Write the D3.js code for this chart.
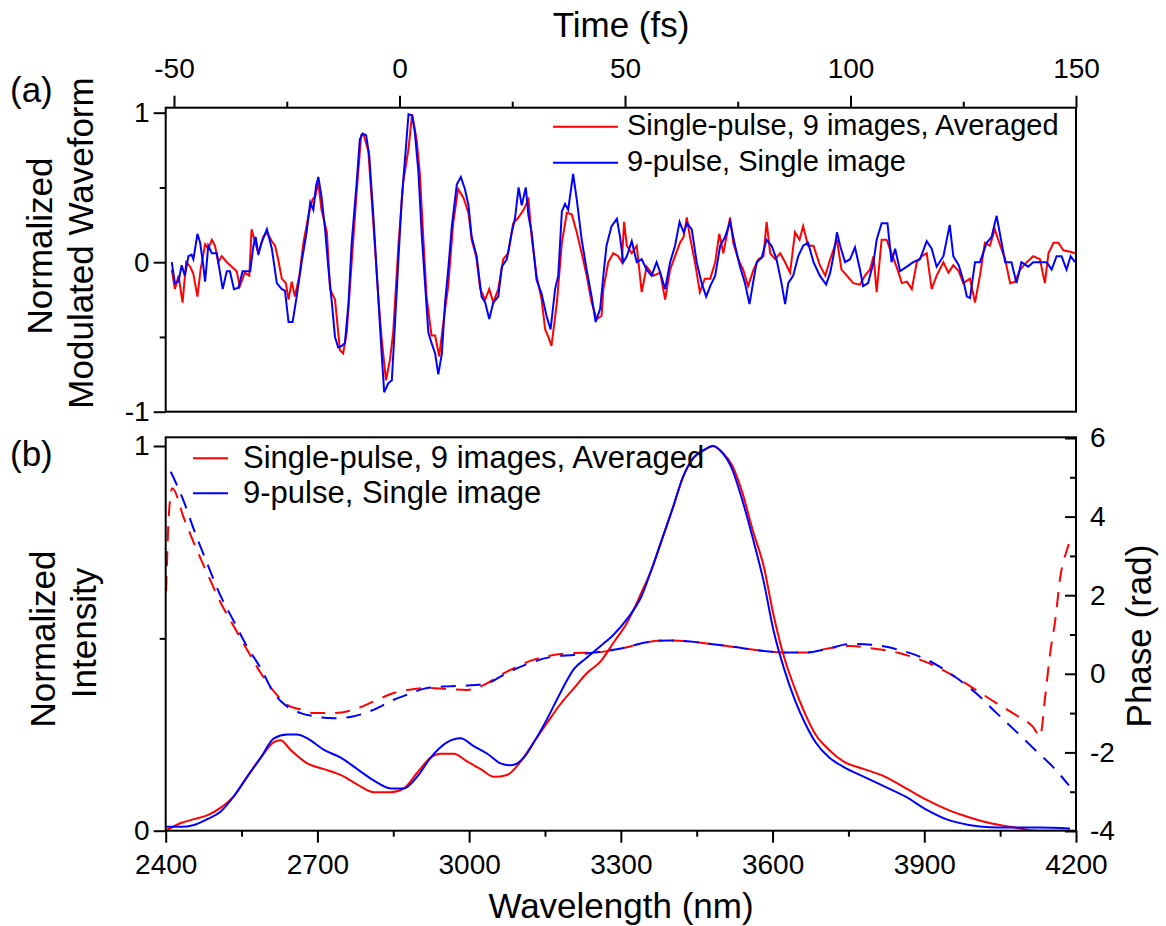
<!DOCTYPE html>
<html><head><meta charset="utf-8">
<script src="https://cdn.jsdelivr.net/npm/d3@7"></script>
<style>
body{margin:0;background:#fff;}
text{font-family:"Liberation Sans",Arial,sans-serif;fill:#000;}
</style>
</head><body>
<svg id="chart" width="1166" height="926"></svg>
<script>
// ---------- tick values ----------
const timeTicks = [-50, 0, 50, 100, 150];
const timeMinorTicks = [-25, 25, 75, 125];
const waveTicks = [-1, 0, 1];
const waveMinorTicks = [-0.5, 0.5];
const wavelengthTicks = [2400, 2700, 3000, 3300, 3600, 3900, 4200];
const wavelengthMinorTicks = [2550, 2850, 3150, 3450, 3750, 4050];
const intensityTicks = [0, 1];
const intensityMinorTicks = [0.5];
const phaseTicks = [-4, -2, 0, 2, 4, 6];
const phaseMinorTicks = [-3, -1, 1, 3, 5];
const seriesNames = ["Single-pulse, 9 images, Averaged", "9-pulse, Single image"];
const seriesColors = ["#ff0000", "#0000ff"];

// ---------- (a) modulated waveform: [time fs, normalized value] ----------
const redWaveform = [[-50.5,-0.05],[-49.8,-0.18],[-49.0,-0.09],[-48.1,-0.27],[-47.3,0.00],[-46.4,-0.03],[-45.7,-0.08],[-44.8,-0.23],[-44.1,-0.05],[-43.1,0.12],[-42.4,0.09],[-41.6,0.15],[-40.9,0.11],[-40.2,0.00],[-39.4,0.04],[-38.3,0.00],[-37.2,-0.03],[-36.1,-0.06],[-35.4,-0.16],[-34.3,-0.07],[-33.3,-0.09],[-32.8,0.22],[-32.0,0.13],[-31.3,0.06],[-30.2,0.17],[-29.4,0.20],[-28.3,0.14],[-27.6,0.11],[-26.9,0.02],[-26.1,-0.11],[-25.2,-0.14],[-24.6,-0.25],[-23.9,-0.13],[-23.2,-0.23],[-22.2,-0.09],[-21.3,0.13],[-20.2,0.31],[-19.3,0.42],[-18.7,0.44],[-18.0,0.53],[-17.3,0.35],[-16.1,0.20],[-15.4,-0.18],[-14.3,-0.25],[-13.2,-0.59],[-12.5,-0.61],[-11.7,-0.47],[-10.6,0.00],[-9.5,0.47],[-8.5,0.85],[-7.9,0.85],[-6.9,0.74],[-5.8,0.26],[-4.7,-0.23],[-4.0,-0.50],[-3.0,-0.79],[-2.1,-0.65],[-1.4,-0.47],[-0.2,0.13],[0.8,0.53],[2.0,0.76],[2.8,0.99],[3.8,0.82],[4.5,0.60],[5.3,0.15],[6.0,-0.23],[7.1,-0.49],[7.9,-0.49],[8.8,-0.63],[9.7,-0.41],[10.8,-0.16],[11.9,0.26],[13.0,0.49],[14.2,0.43],[15.3,0.33],[16.0,0.15],[17.0,0.04],[17.9,-0.18],[19.0,-0.25],[19.9,-0.18],[20.8,-0.27],[21.9,-0.18],[23.0,0.02],[24.1,0.06],[25.2,0.26],[26.4,0.30],[27.5,0.35],[28.6,0.42],[29.3,0.17],[30.4,-0.09],[31.5,-0.25],[32.3,-0.45],[33.0,-0.50],[33.7,-0.56],[34.9,-0.27],[36.0,0.13],[37.1,0.33],[38.2,0.32],[39.3,0.20],[40.4,0.06],[41.5,-0.09],[42.6,-0.27],[43.7,-0.38],[44.8,-0.36],[45.2,-0.18],[46.3,0.00],[47.4,0.06],[48.5,0.04],[49.3,0.00],[49.8,0.27],[50.4,0.11],[51.5,0.06],[52.6,0.11],[53.7,-0.20],[54.8,-0.03],[56.3,-0.09],[57.8,-0.07],[58.9,-0.25],[60.0,-0.05],[61.1,0.04],[62.2,0.13],[63.0,0.17],[63.7,0.30],[64.4,0.17],[65.5,0.00],[66.6,-0.20],[67.7,-0.11],[68.9,-0.11],[70.0,0.00],[70.9,0.19],[71.8,0.06],[72.5,0.17],[73.3,0.30],[74.0,0.13],[75.1,0.02],[76.2,-0.05],[77.3,-0.16],[78.5,-0.05],[79.6,0.02],[80.7,0.04],[81.4,0.27],[82.2,0.06],[83.3,0.02],[84.4,0.06],[85.5,0.00],[86.6,-0.07],[87.7,0.20],[88.7,0.15],[89.5,0.24],[90.6,0.11],[91.8,0.11],[93.2,-0.02],[94.4,-0.09],[95.5,0.02],[97.0,0.15],[98.0,-0.05],[99.2,-0.09],[100.6,-0.14],[102.1,-0.15],[103.2,-0.09],[104.3,-0.05],[105.1,0.04],[105.8,-0.20],[106.9,0.15],[108.0,0.15],[109.1,0.06],[110.2,-0.03],[111.4,-0.14],[112.5,-0.13],[113.6,-0.18],[114.7,0.00],[115.8,0.04],[116.9,0.06],[118.0,-0.18],[119.1,-0.09],[120.6,0.00],[121.7,-0.07],[122.8,-0.02],[124.0,-0.06],[125.0,-0.14],[126.5,-0.11],[127.6,-0.27],[128.7,-0.09],[129.8,0.13],[130.9,0.11],[132.0,0.22],[133.2,0.11],[134.3,0.02],[135.4,-0.14],[136.5,-0.13],[137.6,-0.05],[139.1,0.00],[140.5,0.04],[142.0,0.02],[143.1,-0.14],[143.9,0.06],[145.0,0.13],[146.1,0.13],[147.2,0.08],[148.7,0.07],[149.8,0.06]];

const blueWaveform = [[-50.5,0.00],[-49.8,-0.14],[-49.0,-0.13],[-48.3,-0.02],[-47.6,-0.09],[-46.8,0.04],[-46.1,0.05],[-45.7,0.02],[-44.8,0.19],[-44.2,0.13],[-43.6,0.00],[-43.1,-0.13],[-42.4,0.11],[-41.6,0.06],[-40.5,0.06],[-39.2,-0.18],[-38.3,-0.06],[-37.6,-0.06],[-36.7,-0.18],[-35.7,-0.17],[-34.8,-0.06],[-33.1,-0.06],[-32.4,0.11],[-31.9,0.17],[-31.3,0.05],[-30.6,0.13],[-29.4,0.22],[-28.3,0.09],[-27.2,-0.14],[-26.1,-0.18],[-25.4,-0.19],[-24.6,-0.40],[-23.7,-0.40],[-22.8,-0.23],[-21.7,0.00],[-20.6,0.20],[-19.8,0.40],[-19.1,0.35],[-18.5,0.51],[-18.0,0.57],[-17.3,0.44],[-16.5,0.22],[-15.8,-0.03],[-15.0,-0.27],[-14.3,-0.50],[-13.6,-0.57],[-12.8,-0.56],[-12.1,-0.54],[-11.3,-0.27],[-10.6,0.13],[-9.5,0.53],[-8.8,0.82],[-8.2,0.86],[-7.4,0.85],[-6.7,0.71],[-5.8,0.31],[-4.9,-0.14],[-4.0,-0.59],[-3.4,-0.87],[-2.5,-0.81],[-1.7,-0.79],[-1.0,-0.41],[-0.2,0.04],[0.5,0.42],[1.4,0.76],[2.0,0.99],[2.8,0.98],[3.4,0.87],[4.2,0.60],[4.9,0.20],[5.7,-0.16],[6.4,-0.47],[7.1,-0.54],[7.9,-0.61],[8.6,-0.75],[9.4,-0.61],[10.1,-0.27],[10.8,-0.05],[11.6,0.24],[12.7,0.52],[13.6,0.57],[14.5,0.49],[15.3,0.38],[16.0,0.17],[17.1,0.04],[18.2,-0.23],[19.0,-0.27],[19.9,-0.38],[20.8,-0.27],[21.9,-0.23],[22.7,-0.03],[23.8,0.02],[24.9,0.20],[25.6,0.29],[26.4,0.50],[27.1,0.38],[28.0,0.50],[28.6,0.31],[29.3,0.20],[30.4,-0.12],[31.5,-0.21],[32.6,-0.36],[33.5,-0.45],[34.5,-0.18],[35.2,-0.09],[36.0,0.34],[36.7,0.39],[37.4,0.35],[38.5,0.59],[39.3,0.42],[40.4,0.15],[41.5,-0.05],[42.6,-0.23],[43.5,-0.40],[44.5,-0.31],[45.2,-0.09],[45.9,0.11],[47.0,0.24],[48.2,0.29],[48.9,0.17],[49.6,0.00],[50.4,0.04],[51.5,0.14],[52.6,0.00],[53.7,0.02],[54.8,-0.05],[55.9,-0.09],[57.0,0.00],[57.8,-0.07],[58.9,-0.18],[60.0,0.00],[61.1,0.11],[62.1,0.27],[63.0,0.20],[63.8,0.26],[64.8,0.22],[65.9,0.00],[67.0,-0.14],[68.0,-0.23],[68.9,-0.16],[70.0,-0.09],[71.1,0.11],[72.2,0.17],[73.3,0.27],[74.4,0.11],[75.5,-0.03],[76.6,-0.14],[77.6,-0.28],[78.5,-0.12],[79.2,0.00],[80.3,0.03],[81.4,0.15],[82.5,0.11],[83.6,0.02],[84.7,-0.14],[85.5,-0.28],[86.2,-0.14],[87.3,-0.09],[88.4,0.04],[89.5,0.11],[90.6,0.13],[91.8,0.00],[93.2,-0.09],[94.6,-0.15],[95.5,-0.07],[96.2,0.04],[97.0,0.20],[97.7,0.11],[98.8,0.00],[99.9,0.02],[101.0,0.10],[102.1,-0.05],[102.8,-0.16],[103.9,-0.14],[105.1,0.00],[105.8,0.15],[106.9,0.26],[108.2,0.26],[109.1,0.00],[109.9,0.09],[111.0,-0.06],[112.5,-0.03],[113.9,0.00],[115.4,0.02],[116.9,0.14],[118.0,0.09],[119.1,-0.03],[120.6,0.04],[122.0,0.25],[122.8,0.04],[124.0,-0.02],[125.0,-0.12],[125.8,-0.23],[126.5,-0.24],[127.6,0.00],[128.7,0.00],[130.2,0.13],[131.3,0.17],[132.4,0.31],[133.5,0.13],[134.3,0.00],[135.7,0.00],[136.8,-0.14],[137.9,0.00],[139.4,-0.03],[140.5,0.00],[142.0,0.00],[143.5,0.00],[144.6,-0.05],[145.7,0.04],[146.8,0.04],[147.9,-0.05],[148.8,0.04],[149.8,0.00]];

// ---------- (b) spectrum: [wavelength nm, normalized intensity] ----------
const redIntensity = [[2400,0.00],[2430,0.02],[2456,0.03],[2482,0.04],[2509,0.06],[2535,0.09],[2561,0.14],[2588,0.19],[2614,0.23],[2627,0.235],[2647,0.21],[2680,0.175],[2713,0.16],[2746,0.145],[2779,0.12],[2812,0.10],[2845,0.10],[2871,0.11],[2897,0.15],[2924,0.19],[2943,0.20],[2970,0.20],[2996,0.18],[3023,0.16],[3049,0.14],[3075,0.145],[3102,0.18],[3128,0.23],[3154,0.28],[3181,0.33],[3207,0.37],[3233,0.41],[3260,0.44],[3286,0.49],[3312,0.54],[3341,0.62],[3361,0.68],[3382,0.76],[3403,0.84],[3423,0.92],[3444,0.97],[3465,0.99],[3482,1.00],[3499,0.985],[3520,0.95],[3540,0.88],[3561,0.78],[3582,0.69],[3602,0.56],[3623,0.45],[3644,0.37],[3664,0.305],[3685,0.25],[3712,0.21],[3740,0.18],[3781,0.16],[3823,0.14],[3864,0.11],[3905,0.08],[3947,0.054],[3988,0.035],[4029,0.02],[4071,0.01],[4126,0.00],[4188,0.00]];
const blueIntensity = [[2400,0.01],[2430,0.01],[2456,0.015],[2482,0.03],[2509,0.05],[2535,0.09],[2561,0.14],[2588,0.19],[2614,0.24],[2640,0.25],[2660,0.25],[2680,0.24],[2713,0.21],[2746,0.19],[2779,0.16],[2812,0.13],[2845,0.11],[2871,0.11],[2897,0.14],[2924,0.19],[2957,0.23],[2983,0.24],[3009,0.22],[3036,0.20],[3062,0.175],[3082,0.17],[3108,0.19],[3128,0.23],[3154,0.29],[3181,0.36],[3207,0.42],[3233,0.45],[3260,0.48],[3286,0.51],[3312,0.55],[3341,0.61],[3361,0.68],[3382,0.76],[3403,0.84],[3423,0.92],[3444,0.97],[3465,0.99],[3482,1.00],[3499,0.985],[3520,0.94],[3540,0.86],[3561,0.76],[3582,0.65],[3602,0.52],[3623,0.42],[3644,0.34],[3664,0.28],[3685,0.23],[3712,0.19],[3740,0.166],[3781,0.14],[3823,0.114],[3864,0.088],[3905,0.054],[3947,0.028],[3988,0.015],[4029,0.009],[4071,0.008],[4126,0.008],[4188,0.006]];

// ---------- (b) spectral phase: [wavelength nm, phase rad] ----------
const redPhase = [[2401,2.1],[2403,3.0],[2406,4.0],[2413,4.72],[2436,3.96],[2456,3.32],[2482,2.56],[2509,1.80],[2535,1.20],[2561,0.61],[2588,0.02],[2614,-0.45],[2640,-0.79],[2667,-0.91],[2693,-1.00],[2733,-1.00],[2772,-0.91],[2812,-0.70],[2851,-0.49],[2878,-0.41],[2917,-0.36],[2957,-0.39],[2996,-0.41],[3036,-0.24],[3062,-0.03],[3088,0.14],[3128,0.36],[3167,0.48],[3207,0.53],[3247,0.54],[3286,0.61],[3320,0.70],[3341,0.78],[3396,0.85],[3437,0.82],[3478,0.76],[3520,0.69],[3575,0.59],[3623,0.54],[3664,0.54],[3712,0.65],[3754,0.71],[3795,0.65],[3850,0.53],[3905,0.29],[3960,-0.07],[4002,-0.41],[4043,-0.75],[4085,-1.08],[4115,-1.35],[4129,-1.59],[4139,-0.58],[4149,0.53],[4159,1.37],[4169,2.47],[4182,3.15],[4186,3.3]];
const bluePhase = [[2410,5.14],[2436,4.38],[2456,3.66],[2482,2.81],[2509,1.97],[2535,1.33],[2561,0.69],[2588,0.14],[2614,-0.49],[2640,-0.83],[2667,-1.00],[2693,-1.08],[2733,-1.13],[2772,-1.08],[2812,-0.91],[2851,-0.66],[2878,-0.53],[2917,-0.36],[2957,-0.32],[2996,-0.30],[3036,-0.24],[3062,-0.07],[3088,0.10],[3128,0.31],[3167,0.44],[3207,0.48],[3247,0.54],[3286,0.61],[3320,0.70],[3341,0.78],[3396,0.85],[3437,0.82],[3478,0.76],[3520,0.69],[3575,0.59],[3623,0.54],[3664,0.54],[3712,0.65],[3754,0.76],[3795,0.74],[3850,0.61],[3905,0.36],[3960,-0.07],[4002,-0.49],[4043,-1.00],[4085,-1.51],[4126,-2.02],[4153,-2.35],[4186,-2.84]];

// ---------- layout ----------
const svg = d3.select("#chart");
const FL = 165.7, FR = 1076;
const A = {top: 107.7, bottom: 411.7};
const B = {top: 437.3, bottom: 830.7};
const tickFont = 28;

const xTime = d3.scaleLinear().domain([-50, 150]).range([174, FR]);
const yWave = d3.scaleLinear().domain([-1, 1]).range([411.7, 112.7]);
const xWl = d3.scaleLinear().domain([2400, 4200]).range([FL, FR]);
const yInt = d3.scaleLinear().domain([0, 1]).range([B.bottom, 446]);
const yPh = d3.scaleLinear().domain([-4, 6]).range([831, 438]);

const fmt = d => String(d);

function styleAxis(g, size) {
  g.select(".domain").remove();
  g.selectAll(".tick line").attr("stroke", "#000").attr("stroke-width", 2);
  g.selectAll(".tick text").attr("font-size", size).attr("fill", "#000")
    .style("font-family", '"Liberation Sans", Arial, sans-serif');
}
function addAxis(axis, transform) {
  const g = svg.append("g").attr("transform", transform).call(axis);
  styleAxis(g, tickFont);
  return g;
}

// clip paths
const defs = svg.append("defs");
defs.append("clipPath").attr("id", "clipA").append("rect")
  .attr("x", FL).attr("y", A.top).attr("width", FR - FL).attr("height", A.bottom - A.top);
defs.append("clipPath").attr("id", "clipB").append("rect")
  .attr("x", FL).attr("y", B.top).attr("width", FR - FL).attr("height", B.bottom - B.top);

// ---------- panel (a) ----------
const lineA = d3.line().x(d => xTime(d[0])).y(d => yWave(d[1]));
const gA = svg.append("g").attr("clip-path", "url(#clipA)");
[redWaveform, blueWaveform].forEach((s, i) => {
  gA.append("path").datum(s).attr("d", lineA).attr("fill", "none")
    .attr("stroke", seriesColors[i]).attr("stroke-width", 2).attr("stroke-linejoin", "miter");
});

addAxis(d3.axisTop(xTime).tickValues(timeTicks).tickSize(12).tickPadding(18).tickFormat(fmt), `translate(0,${A.top})`);
addAxis(d3.axisTop(xTime).tickValues(timeMinorTicks).tickSize(6).tickFormat(""), `translate(0,${A.top})`);
addAxis(d3.axisLeft(yWave).tickValues(waveTicks).tickSize(12).tickPadding(4).tickFormat(fmt), `translate(${FL},0)`);
addAxis(d3.axisLeft(yWave).tickValues(waveMinorTicks).tickSize(6).tickFormat(""), `translate(${FL},0)`);

svg.append("rect").attr("x", FL).attr("y", A.top).attr("width", FR - FL).attr("height", A.bottom - A.top)
  .attr("fill", "none").attr("stroke", "#000").attr("stroke-width", 2);

// legend (a)
const legA = [{y: 126.7}, {y: 162.7}];
legA.forEach((l, i) => {
  svg.append("line").attr("x1", 553).attr("x2", 618).attr("y1", l.y).attr("y2", l.y)
    .attr("stroke", seriesColors[i]).attr("stroke-width", 2);
  svg.append("text").attr("x", 627).attr("y", l.y + 8.5).attr("font-size", 29).text(seriesNames[i]);
});

// ---------- panel (b) ----------
const lineInt = d3.line().curve(d3.curveMonotoneX).x(d => xWl(d[0])).y(d => yInt(d[1]));
const linePh = d3.line().curve(d3.curveMonotoneX).x(d => xWl(d[0])).y(d => yPh(d[1]));
const gB = svg.append("g").attr("clip-path", "url(#clipB)");
[redPhase, bluePhase].forEach((s, i) => {
  gB.append("path").datum(s).attr("d", linePh).attr("fill", "none")
    .attr("stroke", seriesColors[i]).attr("stroke-width", 2).attr("stroke-dasharray", "15,10");
});
[redIntensity, blueIntensity].forEach((s, i) => {
  gB.append("path").datum(s).attr("d", lineInt).attr("fill", "none")
    .attr("stroke", seriesColors[i]).attr("stroke-width", 2);
});

addAxis(d3.axisBottom(xWl).tickValues(wavelengthTicks).tickSize(12).tickPadding(11).tickFormat(fmt), `translate(0,${B.bottom})`);
addAxis(d3.axisBottom(xWl).tickValues(wavelengthMinorTicks).tickSize(6).tickFormat(""), `translate(0,${B.bottom})`);
addAxis(d3.axisLeft(yInt).tickValues(intensityTicks).tickSize(12).tickPadding(4).tickFormat(fmt), `translate(${FL},0)`);
addAxis(d3.axisLeft(yInt).tickValues(intensityMinorTicks).tickSize(6).tickFormat(""), `translate(${FL},0)`);
addAxis(d3.axisRight(yPh).tickValues(phaseTicks).tickSizeInner(-11).tickSizeOuter(0).tickPadding(14).tickFormat(fmt), `translate(${FR},0)`);
addAxis(d3.axisRight(yPh).tickValues(phaseMinorTicks).tickSizeInner(-6).tickSizeOuter(0).tickFormat(""), `translate(${FR},0)`);

svg.append("rect").attr("x", FL).attr("y", B.top).attr("width", FR - FL).attr("height", B.bottom - B.top)
  .attr("fill", "none").attr("stroke", "#000").attr("stroke-width", 2);

// legend (b)
const legB = [{y: 458.3}, {y: 493.3}];
legB.forEach((l, i) => {
  svg.append("line").attr("x1", 193).attr("x2", 228).attr("y1", l.y).attr("y2", l.y)
    .attr("stroke", seriesColors[i]).attr("stroke-width", 2);
  svg.append("text").attr("x", 243).attr("y", l.y + 10).attr("font-size", 31).text(seriesNames[i]);
});

// ---------- titles ----------
svg.append("text").attr("x", 621).attr("y", 37).attr("text-anchor", "middle").attr("font-size", 35).text("Time (fs)");
svg.append("text").attr("x", 621).attr("y", 918).attr("text-anchor", "middle").attr("font-size", 35).text("Wavelength (nm)");
svg.append("text").attr("x", 10).attr("y", 102).attr("font-size", 35).text("(a)");
svg.append("text").attr("x", 10).attr("y", 466).attr("font-size", 35).text("(b)");

function vtext(x, y, s) {
  svg.append("text").attr("transform", `translate(${x},${y}) rotate(-90)`)
    .attr("text-anchor", "middle").attr("font-size", 35).text(s);
}
vtext(52, 246, "Normalized");
vtext(93, 243, "Modulated Waveform");
vtext(54.5, 639, "Normalized");
vtext(96, 633, "Intensity");
vtext(1151, 636, "Phase (rad)");
</script>
</body></html>
